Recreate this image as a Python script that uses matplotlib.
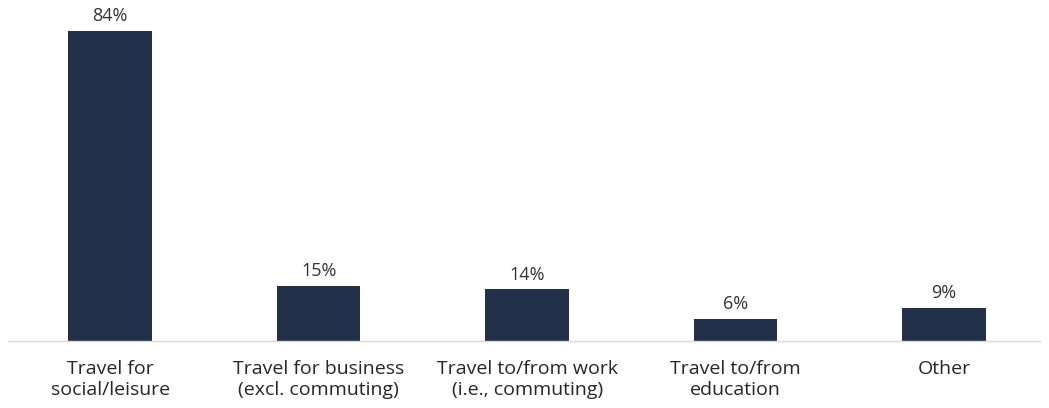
import matplotlib.pyplot as plt

categories = ["Travel for\nsocial/leisure", "Travel for business\n(excl. commuting)",
              "Travel to/from work\n(i.e., commuting)", "Travel to/from\neducation", "Other"]
shares = [84, 15, 14, 6, 9]

plt.rcParams['font.family'] = ['Open Sans', 'DejaVu Sans']

fig = plt.figure(figsize=(10.49, 4.08), dpi=100)
ax = fig.add_axes([8 / 1049, 1 - 341 / 408, 1032 / 1049, 341 / 408])

x = range(len(categories))
bars = ax.bar(x, shares, width=0.4, color="#223049")

for b, v in zip(bars, shares):
    ax.annotate(f"{v}%", (b.get_x() + b.get_width() / 2, v),
                xytext=(0, 4), textcoords="offset points",
                ha="center", va="bottom", fontsize=13, color="#333333")

ax.set_xlim(-0.49, 4.46)
ax.set_ylim(0, 92.4)
ax.set_xticks(list(x))
ax.set_xticklabels(categories, fontsize=14, color="#262626", linespacing=1.2)
ax.tick_params(axis="x", length=0, pad=14)
ax.set_yticks([])
for s in ["top", "right", "left"]:
    ax.spines[s].set_visible(False)
ax.spines["bottom"].set_color("#d9d9d9")
ax.spines["bottom"].set_linewidth(1)

fig.savefig("out.png", dpi=100)
